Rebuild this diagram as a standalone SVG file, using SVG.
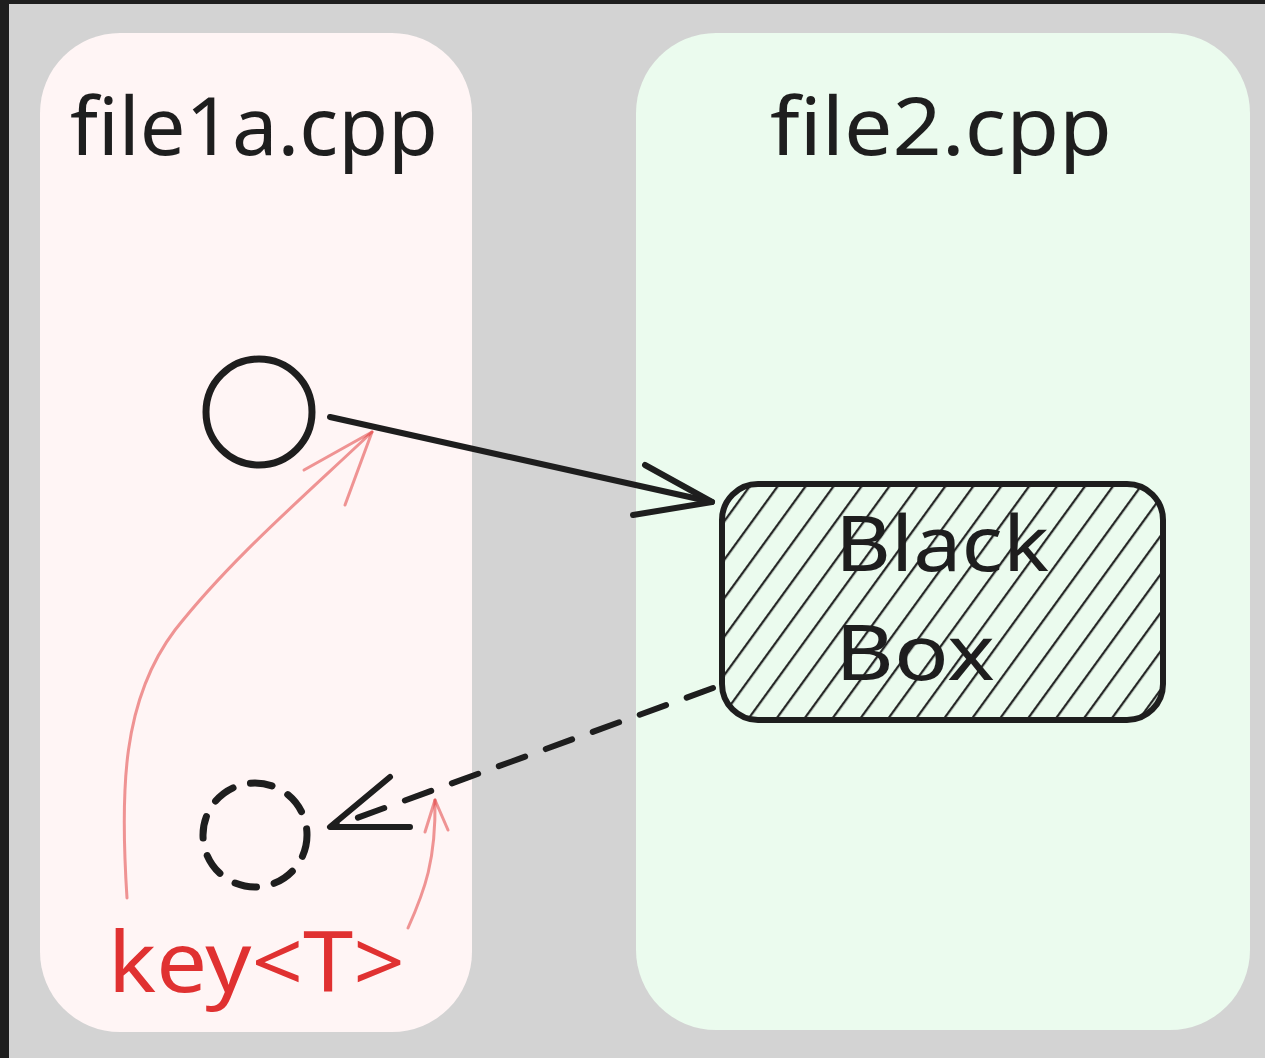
<svg xmlns="http://www.w3.org/2000/svg" width="1265" height="1058" viewBox="0 0 1265 1058">
<defs>
<style>
.ink{fill:none;stroke:#1e1e1e;stroke-linecap:round;stroke-linejoin:round}
.pink{fill:none;stroke:#e03131;stroke-opacity:0.5;stroke-width:3;stroke-linecap:round;stroke-linejoin:round}
.lbl{font-family:"Noto Sans","Liberation Sans",sans-serif;fill:#1e1e1e}
</style>
<pattern id="hatch" patternUnits="userSpaceOnUse" width="22.6" height="40" patternTransform="rotate(36)">
<line x1="11" y1="-5" x2="11" y2="45" stroke="#1e1e1e" stroke-width="2.2"/>
</pattern>
<clipPath id="boxclip"><rect x="722" y="484" width="441" height="236" rx="36"/></clipPath>
</defs>
<rect x="0" y="0" width="1265" height="1058" fill="#1e1e1e"/>
<rect x="9" y="4" width="1256" height="1054" fill="#d3d3d3"/>
<g id="panel-file1a">
<rect x="40" y="33" width="432" height="999" rx="80" fill="#fff5f5"/>
<text class="lbl" x="70" y="155" font-size="80" textLength="368" lengthAdjust="spacingAndGlyphs">file1a.cpp</text>
</g>
<g id="panel-file2">
<rect x="636" y="33" width="614" height="997" rx="80" fill="#ebfbee"/>
<text class="lbl" x="770" y="155" font-size="80" textLength="342" lengthAdjust="spacingAndGlyphs">file2.cpp</text>
</g>
<g id="node-circle">
<circle cx="259" cy="412" r="53" class="ink" stroke-width="7"/>
</g>
<g id="node-dashed-circle">
<circle cx="255" cy="835" r="52" class="ink" stroke-width="7" stroke-dasharray="22 18"/>
</g>
<g id="node-blackbox">
<rect x="722" y="484" width="441" height="236" rx="36" fill="#ebfbee"/>
<rect x="722" y="484" width="441" height="236" fill="url(#hatch)" clip-path="url(#boxclip)"/>
<rect x="722" y="484" width="441" height="236" rx="36" class="ink" stroke-width="6"/>
<text class="lbl" x="942" y="571" font-size="76" text-anchor="middle" textLength="214" lengthAdjust="spacingAndGlyphs">Black</text>
<text class="lbl" x="915" y="680" font-size="76" text-anchor="middle" textLength="160" lengthAdjust="spacingAndGlyphs">Box</text>
</g>
<g id="node-key">
<text x="108" y="992" font-size="84" font-family="Noto Sans, Liberation Sans, sans-serif" fill="#e03131" textLength="297" lengthAdjust="spacingAndGlyphs">key&lt;T&gt;</text>
</g>
<g id="connectors">
<path class="ink" stroke-width="6" d="M330,417 L712,502"/>
<path class="ink" stroke-width="6" d="M645,465 L712,502 L633,515"/>
<path class="ink" stroke-width="6" stroke-dasharray="28 22" d="M713,688 L335,826"/>
<path class="ink" stroke-width="6" d="M390,777 L330,827 L410,827"/>
<path class="pink" d="M127,898 C120,790 122,700 175,630 C230,560 300,500 372,432"/>
<path class="pink" d="M304,470 L372,432 L345,505"/>
<path class="pink" d="M408,928 C425,890 436,860 435,800"/>
<path class="pink" d="M425,832 L435,800 L448,830"/>
</g>
</svg>
